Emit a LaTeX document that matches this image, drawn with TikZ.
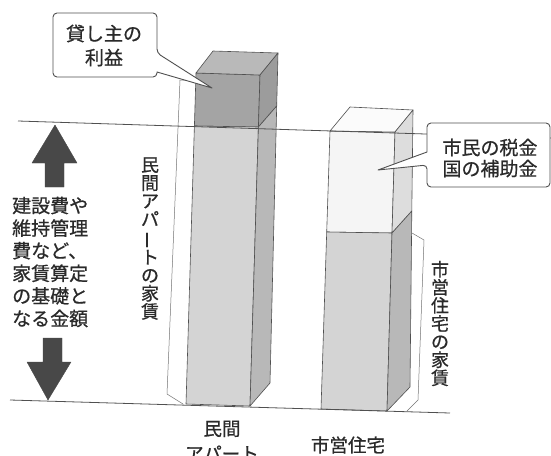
\documentclass[tikz,border=0pt]{standalone}
\usepackage{fontspec}
\usepackage{graphicx}
\newfontfamily\jp[FakeBold=0.7]{Noto Sans CJK JP}
\definecolor{ink}{HTML}{505050}
\definecolor{txt}{HTML}{2A2A2A}
\definecolor{arrowc}{HTML}{484848}
\definecolor{profitfront}{HTML}{A4A4A4}
\definecolor{profittop}{HTML}{B9B9B9}
\definecolor{profitside}{HTML}{9C9C9C}
\definecolor{rentfront}{HTML}{D4D4D4}
\definecolor{rentside}{HTML}{B8B8B8}
\definecolor{subfront}{HTML}{F5F5F5}
\definecolor{subtop}{HTML}{FBFBFB}
\definecolor{subside}{HTML}{DDDDDD}
\begin{document}
\begin{tikzpicture}[x=1pt,y=-1pt,
  edge/.style={draw=ink, line width=0.6pt, line join=round},
  baseline/.style={draw=ink, line width=0.8pt},
  bracketline/.style={draw=ink!80, line width=0.5pt, line join=round},
  blockarrow/.style={fill=arrowc, draw=arrowc, line width=0.4pt, line join=round},
  bigtext/.style={font=\jp\fontsize{19}{22.6}\selectfont, text=txt, align=left, inner sep=0pt},
  calltext/.style={font=\jp\fontsize{19}{24}\selectfont, text=txt, align=center, inner sep=0pt},
  vtext/.style={font=\jp\fontsize{18}{18.1}\selectfont, text=txt, align=center, inner sep=0pt},
  labeltext/.style={font=\jp\fontsize{18.5}{25}\selectfont, text=txt, align=center, inner sep=0pt},
  callout/.style={draw=ink, line width=0.9pt, fill=white, line join=round}
]
\clip (0,0) rectangle (551,455);
\fill[white] (0,0) rectangle (551,455);

% ---------- brackets behind bars
\draw[bracketline] (197,80) -- (180,80) -- (167,394) -- (183,404);
\draw[bracketline] (412,233) -- (424,240) -- (418,400) -- (407,411);

% ---------- private apartment bar
\coordinate (pA1) at (196,73);
\coordinate (pA2) at (260,75);
\coordinate (pA3) at (213,51);
\coordinate (pA4) at (278,53);
\coordinate (pD1) at (194.4,126);
\coordinate (pD2) at (258.4,127);
\coordinate (pS)  at (276.7,106);
\coordinate (pB1) at (186,404);
\coordinate (pB2) at (250,406);
\coordinate (pB3) at (270,383);
\filldraw[edge, fill=profitfront] (pA1) -- (pA2) -- (pD2) -- (pD1) -- cycle;
\filldraw[edge, fill=profittop] (pA1) -- (pA3) -- (pA4) -- (pA2) -- cycle;
\filldraw[edge, fill=profitside] (pA2) -- (pA4) -- (pS) -- (pD2) -- cycle;
\filldraw[edge, fill=rentfront] (pD1) -- (pD2) -- (pB2) -- (pB1) -- cycle;
\filldraw[edge, fill=rentside] (pD2) -- (pS) -- (pB3) -- (pB2) -- cycle;

% ---------- municipal housing bar
\coordinate (mA1) at (330,131);
\coordinate (mA2) at (395,132);
\coordinate (mA3) at (350,107);
\coordinate (mA4) at (413,110);
\coordinate (mD1) at (326.7,232);
\coordinate (mD2) at (392,233);
\coordinate (mS)  at (411.8,211);
\coordinate (mB1) at (321,409);
\coordinate (mB2) at (387,411);
\coordinate (mB3) at (410,387);
\filldraw[edge, fill=subfront] (mA1) -- (mA2) -- (mD2) -- (mD1) -- cycle;
\filldraw[edge, fill=subtop] (mA1) -- (mA3) -- (mA4) -- (mA2) -- cycle;
\filldraw[edge, fill=subside] (mA2) -- (mA4) -- (mS) -- (mD2) -- cycle;
\filldraw[edge, fill=rentfront] (mD1) -- (mD2) -- (mB2) -- (mB1) -- cycle;
\filldraw[edge, fill=rentside] (mD2) -- (mS) -- (mB3) -- (mB2) -- cycle;

% ---------- reference lines
\coordinate (topL) at (18,121);
\coordinate (topR) at (551,138);
\coordinate (botL) at (10,400);
\coordinate (botR) at (450,413);
\draw[baseline] (topL) -- (topR);
\draw[baseline] (botL) -- (botR);

% ---------- block arrows
\filldraw[blockarrow] (55,125) -- (77,163) -- (64,163) -- (64,187) -- (45,187) -- (45,163) -- (32,163) -- cycle;
\filldraw[blockarrow] (43,338) -- (62,338) -- (62,362) -- (71,362) -- (48,400) -- (27,362) -- (43,362) -- cycle;

% ---------- texts
\node[bigtext, anchor=west] (basis) at (12,262) {建設費や\\維持管理\\費など、\\家賃算定\\の基礎と\\なる金額};
\node[vtext] (privrent) at (150,238.5) {民\\間\\ア\\パ\\\rotatebox[origin=c]{90}{ー}\\ト\\の\\家\\賃};
\node[vtext] (munirent) at (440,323.5) {市\\営\\住\\宅\\の\\家\\賃};
\node[labeltext] (privlabel) at (222,441) {民間\\アパート};
\node[labeltext] (munilabel) at (348,445) {市営住宅};

% ---------- callouts
\draw[callout] (212,88) -- (157,72) [rounded corners=4pt] -- (157,77) -- (53,77) -- (53,13) -- (157,13) -- (157,53) [sharp corners] -- cycle;
\node[calltext] (profit) at (104,45.5) {貸し主の\\利益};
\draw[callout] (378,170) -- (427,152) [rounded corners=4pt] -- (427,123) -- (550,123) -- (550,187) -- (427,187) -- (427,165) [sharp corners] -- cycle;
\node[calltext, font=\jp\fontsize{19}{21}\selectfont] (subsidy) at (490,158) {市民の税金\\国の補助金};
\end{tikzpicture}
\end{document}
